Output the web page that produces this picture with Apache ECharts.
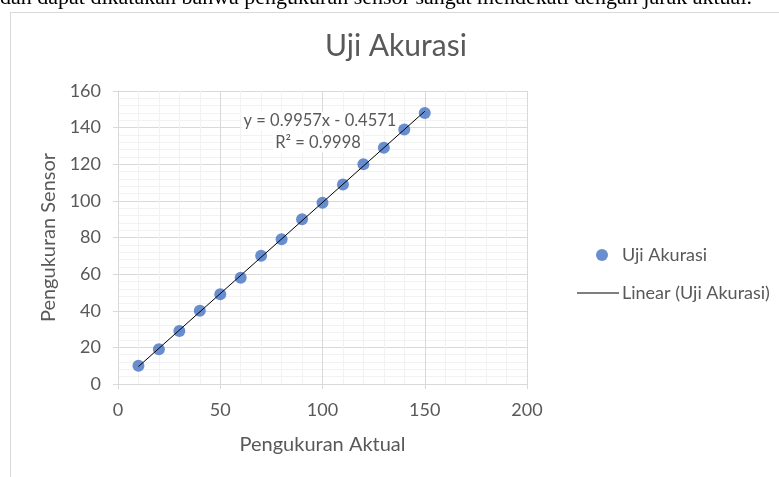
<!DOCTYPE html>
<html><head><meta charset="utf-8">
<script src="https://cdn.jsdelivr.net/npm/echarts@6/dist/echarts.min.js"></script>
<style>html,body{margin:0;padding:0;background:#fff}#c{width:779px;height:477px}</style>
</head><body><div id="c"></div>
<script>
const aktual = [10,20,30,40,50,60,70,80,90,100,110,120,130,140,150];
const sensor = [10,19,29,40,49,58,70,79,90,99,109,120,129,139,148];
const trendX = [10,150];
const trendY = [9.5,148.9];
const xTicks = [0,50,100,150,200];
const yTicks = [0,20,40,60,80,100,120,140,160];
const txt = '#595959';
const font = 'Lato';
const chart = echarts.init(document.getElementById('c'));
chart.setOption({
  animation:false,
  textStyle:{fontFamily:font},
  title:{text:'Uji Akurasi',top:26,textStyle:{fontFamily:font,fontSize:30,fontWeight:'normal',color:txt},left:320},
  grid:{left:118,right:252,top:91,bottom:93},
  xAxis:{type:'value',min:0,max:200,interval:50,
    name:'Pengukuran Aktual',nameLocation:'middle',nameGap:51,
    nameTextStyle:{fontFamily:font,fontSize:20,color:txt},
    axisLine:{show:true,lineStyle:{color:'#d9d9d9'}},
    axisTick:{show:true,length:5,lineStyle:{color:'#d9d9d9'}},
    axisLabel:{fontFamily:font,fontSize:18,color:txt,margin:17},
    splitLine:{show:true,lineStyle:{color:'#d9d9d9'}},
    minorTick:{show:false,splitNumber:5},
    minorSplitLine:{show:true,lineStyle:{color:'#f2f2f2'}}},
  yAxis:{type:'value',min:0,max:160,interval:20,
    name:'Pengukuran Sensor',nameLocation:'middle',nameGap:56,
    nameTextStyle:{fontFamily:font,fontSize:20,color:txt},
    axisLine:{show:true,lineStyle:{color:'#d9d9d9'}},
    axisTick:{show:true,length:5,lineStyle:{color:'#d9d9d9'}},
    axisLabel:{fontFamily:font,fontSize:18,color:txt,margin:17},
    splitLine:{show:true,lineStyle:{color:'#d9d9d9'}},
    minorTick:{show:false,splitNumber:5},
    minorSplitLine:{show:true,lineStyle:{color:'#f2f2f2'}}},
  legend:[
    {data:[{name:'Uji Akurasi',icon:'circle'}],left:591,top:241,itemWidth:12,itemHeight:12,itemGap:0,
     textStyle:{fontFamily:font,fontSize:18,color:txt,padding:[0,0,0,9]}},
    {data:[{name:'Linear (Uji Akurasi)',icon:'rect'}],left:572,top:279,itemWidth:42,itemHeight:1,
     textStyle:{fontFamily:font,fontSize:18,color:txt,padding:[0,0,0,-2]}}
  ],
  series:[
    {name:'Linear (Uji Akurasi)',type:'line',data:trendX.map((x,i)=>[x,trendY[i]]),
     showSymbol:false,symbol:'none',lineStyle:{color:'#000',width:1},itemStyle:{color:'#000'},z:3},
    {name:'Uji Akurasi',type:'scatter',data:aktual.map((x,i)=>[x,sensor[i]]),
     symbol:'circle',symbolSize:12,itemStyle:{color:'#4472C4'},z:2}
  ],
  graphic:[
    {type:'line',shape:{x1:10.5,y1:12,x2:10.5,y2:477},style:{stroke:'#d9d9d9',lineWidth:1},silent:true},
    {type:'line',shape:{x1:10,y1:12.5,x2:779,y2:12.5},style:{stroke:'#d9d9d9',lineWidth:1},silent:true},
    {type:'text',left:0,top:-13,style:{text:'dan dapat dikatakan bahwa pengukuran sensor sangat mendekati dengan jarak aktual.',
      fontFamily:'Liberation Serif',fontSize:22,fill:'#000'}},
    {type:'text',x:320,y:121,z:1,style:{text:'y = 0.9957x - 0.4571',fontFamily:font,fontSize:16.5,fill:txt,align:'center',verticalAlign:'middle',backgroundColor:'#fff',padding:[1,2]}},
    {type:'text',x:318,y:143,z:1,style:{text:'R² = 0.9998',fontFamily:font,fontSize:16.5,fill:txt,align:'center',verticalAlign:'middle',backgroundColor:'#fff',padding:[1,2]}}
  ]
});
</script></body></html>
